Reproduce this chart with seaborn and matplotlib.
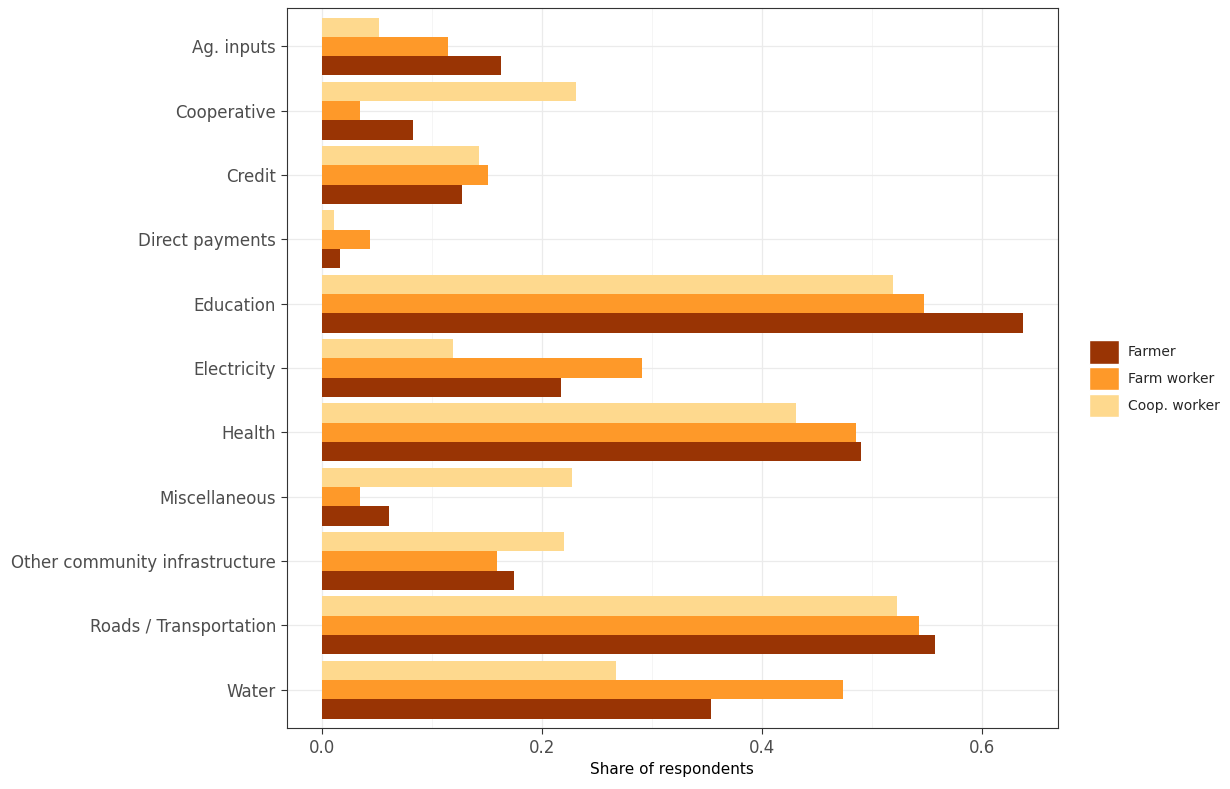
import pandas as pd
import matplotlib.pyplot as plt
import seaborn as sns
from matplotlib.patches import Patch
from matplotlib.ticker import MultipleLocator

sns.set_theme(style="whitegrid")
plt.rcParams['font.family'] = ['DejaVu Sans']

categories = ["Ag. inputs", "Cooperative", "Credit", "Direct payments", "Education",
              "Electricity", "Health", "Miscellaneous", "Other community infrastructure",
              "Roads / Transportation", "Water"]
farmer = [0.163, 0.083, 0.127, 0.017, 0.637, 0.217, 0.490, 0.061, 0.175, 0.557, 0.354]
farm_worker = [0.115, 0.035, 0.151, 0.044, 0.547, 0.291, 0.486, 0.035, 0.159, 0.543, 0.474]
coop_worker = [0.052, 0.231, 0.143, 0.011, 0.519, 0.119, 0.431, 0.227, 0.220, 0.523, 0.267]
groups = ["Farmer", "Farm worker", "Coop. worker"]
colors = {"Farmer": "#993404", "Farm worker": "#FE9929", "Coop. worker": "#FED98E"}

df = pd.concat([
    pd.DataFrame({"cat": categories, "share": vals, "group": g})
    for g, vals in zip(groups, [farmer, farm_worker, coop_worker])
])

fig = plt.figure(figsize=(12.3, 7.89), dpi=100)
ax = fig.add_axes([0.233, 0.077, 0.627, 0.913])
sns.barplot(data=df, y="cat", x="share", hue="group", order=categories,
            hue_order=groups[::-1], palette=colors, width=0.9, ax=ax,
            saturation=1, legend=False, linewidth=0, edgecolor="none")
ax.set_xlim(-0.032, 0.669)
ax.set_ylim(len(categories) - 0.4, -0.6)
ax.set_xticks([0, 0.2, 0.4, 0.6])
ax.set_xticklabels(["0.0", "0.2", "0.4", "0.6"])
ax.xaxis.set_minor_locator(MultipleLocator(0.1))
ax.set_xlabel("Share of respondents", fontsize=11, color="black")
ax.set_ylabel("")
ax.tick_params(axis='both', which='major', labelsize=12, labelcolor="#4d4d4d",
               length=4, width=0.8, color="#333333", bottom=True, left=True)
ax.tick_params(axis='x', which='minor', length=0)
ax.grid(True, which='major', color="#ebebeb", linewidth=0.9)
ax.grid(True, which='minor', axis='x', color="#f2f2f2", linewidth=0.5)
ax.set_axisbelow(True)
for s in ax.spines.values():
    s.set_visible(True)
    s.set_color("#333333")
    s.set_linewidth(0.8)

handles = [Patch(facecolor=colors[g], edgecolor="white", label=g) for g in groups]
fig.legend(handles=handles, loc="center left", bbox_to_anchor=(0.875, 0.52),
           frameon=False, fontsize=10, handlelength=2.2, handleheight=2.2,
           labelspacing=0.25, handletextpad=0.6)
plt.savefig("out.png", dpi=100)
